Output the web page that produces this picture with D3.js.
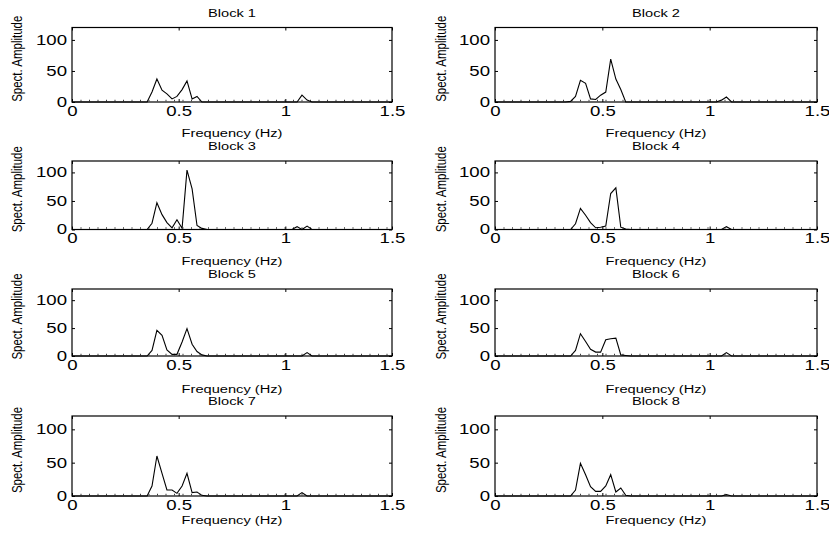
<!DOCTYPE html>
<html lang="en">
<head>
<meta charset="UTF-8">
<title>Spectra by block</title>
<script src="https://cdn.jsdelivr.net/npm/d3@7"></script>
<style>
  body { margin: 0; background: #fff; }
  text { font-family: "Liberation Sans", Arial, Helvetica, sans-serif; fill: #000; }
</style>
</head>
<body>
<script>
// frequency samples (Hz) - only the part where something happens, zeros elsewhere
var freq = [0, 0.328, 0.352, 0.375, 0.398, 0.422, 0.445, 0.469, 0.492, 0.516, 0.539, 0.563, 0.586, 0.609, 0.633,
            1.031, 1.055, 1.078, 1.102, 1.125, 1.5];

// spectral amplitude for each block
var block1 = [0, 0, 0, 16, 37, 19, 13, 5, 9, 20, 34, 5, 9, 0, 0, 0, 0, 11, 3, 0, 0];
var block2 = [0, 0, 1, 9, 35, 30, 5, 4, 11, 16, 69, 37, 20, 0, 0, 0, 3, 8, 0, 0, 0];
var block3 = [0, 0, 0, 11, 47, 26, 12, 3, 17, 2, 104, 71, 7, 2, 0, 0, 5, 0, 6, 0, 0];
var block4 = [0, 0, 0, 10, 37, 25, 12, 3, 4, 6, 63, 73, 4, 1, 0, 0, 0, 5, 0, 0, 0];
var block5 = [0, 0, 0, 10, 46, 37, 11, 3, 3, 25, 49, 21, 8, 2, 0, 0, 0, 0, 6, 0, 0];
var block6 = [0, 0, 0, 10, 40, 26, 12, 7, 7, 29, 31, 32, 2, 1, 0, 0, 0, 6, 0, 0, 0];
var block7 = [0, 0, 0, 15, 60, 34, 9, 9, 4, 15, 34, 5, 6, 1, 0, 0, 0, 5, 0, 0, 0];
var block8 = [0, 0, 0, 9, 49, 32, 14, 7, 7, 15, 32, 6, 12, 1, 0, 0, 0, 2, 0, 0, 0];

var blocks = [block1, block2, block3, block4, block5, block6, block7, block8];
var titles = ["Block 1", "Block 2", "Block 3", "Block 4", "Block 5", "Block 6", "Block 7", "Block 8"];
var xTicks = [0, 0.5, 1, 1.5];
var yTicks = [0, 50, 100];

var w = 829, h = 537;
var sx = 1.33;            // text in the picture is wider than it is tall
var colLeft = [72, 495], colWidth = [320, 322];
var rowTop = [27.5, 161, 289, 416];
var rowBottom = [102, 229.5, 356, 496];
var xlabelY = [137, 265, 393, 524];
var ylabelX = [18, 442];

var svg = d3.select("body").append("svg")
    .attr("width", w)
    .attr("height", h);

// wide text helper
function wideText(g, x, y, str, size, anchor, rotate) {
    return g.append("text")
        .attr("transform", "translate(" + x + "," + y + ") scale(" + sx + ",1)" + (rotate ? " rotate(-90)" : ""))
        .attr("text-anchor", anchor)
        .attr("font-size", size)
        .text(str);
}

blocks.forEach(function (vals, i) {
    var col = i % 2, row = Math.floor(i / 2);
    var left = colLeft[col], top = rowTop[row];
    var aw = colWidth[col], axH = rowBottom[row] - rowTop[row];

    var x = d3.scaleLinear().domain([0, 1.5]).range([0, aw]);
    var y = d3.scaleLinear().domain([0, 120]).range([axH, 0]);

    var g = svg.append("g").attr("transform", "translate(" + left + "," + top + ")");

    // bottom axis with labels, ticks pointing in
    var xb = g.append("g").attr("transform", "translate(0," + axH + ")")
        .call(d3.axisBottom(x).tickValues(xTicks).tickSizeInner(-3).tickSizeOuter(0).tickPadding(4)
            .tickFormat(function (d) { return d3.format("")(d); }));
    // left axis
    var yl = g.append("g")
        .call(d3.axisLeft(y).tickValues(yTicks).tickSizeInner(-3).tickSizeOuter(0).tickPadding(5));
    // top and right: ticks only
    g.append("g").call(d3.axisTop(x).tickValues(xTicks).tickSizeInner(-3).tickSizeOuter(0).tickFormat(""));
    g.append("g").attr("transform", "translate(" + aw + ",0)")
        .call(d3.axisRight(y).tickValues(yTicks).tickSizeInner(-3).tickSizeOuter(0).tickFormat(""));

    g.selectAll(".domain").remove();
    g.selectAll(".tick line").attr("stroke", "#000").attr("stroke-width", 1);
    g.selectAll("text").attr("font-family", null);

    xb.selectAll(".tick text")
        .attr("font-size", 14)
        .attr("transform", "scale(" + sx + ",1)");
    yl.selectAll(".tick text")
        .attr("font-size", 14)
        .attr("x", -5 / sx)
        .attr("transform", "scale(" + sx + ",1)");

    // faint dotted trace along zero
    g.append("line")
        .attr("x1", x(0)).attr("x2", x(1.5))
        .attr("y1", y(0) - 1.5).attr("y2", y(0) - 1.5)
        .attr("stroke", "#000")
        .attr("stroke-width", 1.5)
        .attr("stroke-opacity", 0.75)
        .attr("stroke-dasharray", "1,7.5");

    // spectrum line
    var line = d3.line()
        .x(function (d, k) { return x(freq[k]); })
        .y(function (d) { return y(d); });
    g.append("path")
        .datum(vals)
        .attr("d", line)
        .attr("fill", "none")
        .attr("stroke", "#000")
        .attr("stroke-width", 1.1)
        .attr("stroke-linejoin", "miter");

    // box
    g.append("rect")
        .attr("x", 0).attr("y", 0)
        .attr("width", aw).attr("height", axH)
        .attr("fill", "none")
        .attr("stroke", "#000")
        .attr("stroke-width", 1.2);

    // title, labels
    wideText(g, aw / 2, -11, titles[i], 11, "middle");
    wideText(g, aw / 2, xlabelY[row] - top, "Frequency (Hz)", 11, "middle");
    wideText(g, ylabelX[col] + 4 - left, axH / 2 - 6, "Spect. Amplitude", 11.5, "middle", true);
});
</script>
</body>
</html>
